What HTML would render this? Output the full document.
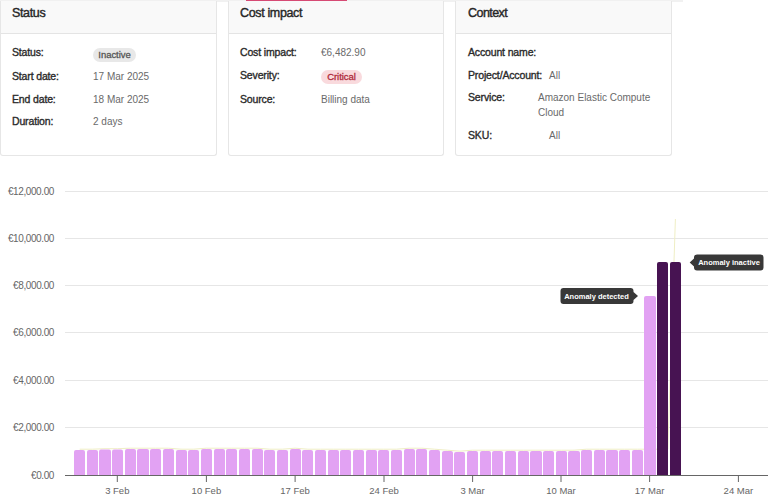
<!DOCTYPE html>
<html><head><meta charset="utf-8">
<style>
html,body{margin:0;padding:0;background:#fff;}
body{width:768px;height:499px;overflow:hidden;position:relative;font-family:"Liberation Sans",sans-serif;}
.topbar{position:absolute;left:0;top:0;width:683px;height:2px;background:#f1f1f1;}
.red{position:absolute;left:246px;top:0;width:101px;height:1px;background:#d64a74;}
.card{position:absolute;top:1px;height:154px;width:214px;border:1px solid #e6e6e6;border-top:none;border-radius:0 0 3px 3px;background:#fff;}
.hdr{position:absolute;left:0;top:0;right:0;height:32px;background:#f9f9f9;border-bottom:1px solid #e4e4e4;}
.ht{position:absolute;left:11px;top:5px;font-size:12.5px;line-height:14px;font-weight:normal;-webkit-text-stroke:0.4px #262626;color:#262626;letter-spacing:-0.35px;}
.lb{position:absolute;font-size:10.5px;line-height:12px;font-weight:normal;-webkit-text-stroke:0.35px #2a2a2a;color:#2a2a2a;letter-spacing:-0.15px;white-space:nowrap;}
.vl{position:absolute;font-size:10px;line-height:12px;color:#6a6a6a;white-space:nowrap;}
.pill{position:absolute;height:14px;border-radius:7px;font-size:9.5px;line-height:14px;font-weight:normal;-webkit-text-stroke:0.3px currentColor;letter-spacing:-0.05px;text-align:center;white-space:nowrap;}
.yl{position:absolute;right:714px;font-size:10px;line-height:12px;color:#666;letter-spacing:-0.4px;white-space:nowrap;text-align:right;}
.xl{position:absolute;top:485px;width:60px;text-align:center;font-size:9.5px;line-height:12px;color:#666;white-space:nowrap;}
.tt{position:absolute;height:16px;background:#383838;border-radius:3px;color:#fff;font-size:7.5px;font-weight:bold;line-height:16px;text-align:center;white-space:nowrap;}
svg{position:absolute;left:0;top:0;}
</style></head><body>
<div class="topbar"></div>
<div class="red"></div>

<div class="card" style="left:0;width:215px">
  <div class="hdr"><div class="ht">Status</div></div>
  <div class="lb" style="left:11px;top:45px">Status:</div>
  <div class="pill" style="left:92px;top:47px;width:43px;background:#e8e8e8;color:#555">Inactive</div>
  <div class="lb" style="left:11px;top:69px">Start date:</div>
  <div class="vl" style="left:92px;top:70px">17 Mar 2025</div>
  <div class="lb" style="left:11px;top:92px">End date:</div>
  <div class="vl" style="left:92px;top:93px">18 Mar 2025</div>
  <div class="lb" style="left:11px;top:114px">Duration:</div>
  <div class="vl" style="left:92px;top:115px">2 days</div>
</div>

<div class="card" style="left:228px">
  <div class="hdr"><div class="ht">Cost impact</div></div>
  <div class="lb" style="left:11px;top:45px">Cost impact:</div>
  <div class="vl" style="left:92px;top:46px">€6,482.90</div>
  <div class="lb" style="left:11px;top:68px">Severity:</div>
  <div class="pill" style="left:92px;top:69px;width:41px;background:#f9dadd;color:#b02a3a">Critical</div>
  <div class="lb" style="left:11px;top:92px">Source:</div>
  <div class="vl" style="left:92px;top:93px">Billing data</div>
</div>

<div class="card" style="left:455px;width:215px">
  <div class="hdr"><div class="ht" style="left:12px;letter-spacing:-0.55px">Context</div></div>
  <div class="lb" style="left:12px;top:45px">Account name:</div>
  <div class="lb" style="left:12px;top:68px">Project/Account:</div>
  <div class="vl" style="left:93px;top:69px">All</div>
  <div class="lb" style="left:12px;top:90px">Service:</div>
  <div class="vl" style="left:82px;top:89px;line-height:15px;width:125px;white-space:normal">Amazon Elastic Compute Cloud</div>
  <div class="lb" style="left:12px;top:128px">SKU:</div>
  <div class="vl" style="left:93px;top:129px">All</div>
</div>

<svg width="768" height="499" viewBox="0 0 768 499">
<rect x="65" y="191" width="703" height="1" fill="#e6e6e6"/><rect x="65" y="238" width="703" height="1" fill="#e6e6e6"/><rect x="65" y="285" width="703" height="1" fill="#e6e6e6"/><rect x="65" y="332" width="703" height="1" fill="#e6e6e6"/><rect x="65" y="380" width="703" height="1" fill="#e6e6e6"/><rect x="65" y="427" width="703" height="1" fill="#e6e6e6"/>
<polyline points="79.65,449.20 92.32,449.20 105.00,448.70 117.67,448.70 130.35,448.20 143.03,448.20 155.70,448.20 168.38,448.20 181.05,449.20 193.73,449.20 206.40,448.20 219.08,448.20 231.75,448.20 244.43,448.20 257.10,448.20 269.78,449.20 282.45,449.20 295.13,448.20 307.80,449.20 320.48,449.20 333.15,449.20 345.82,449.20 358.50,449.20 371.18,449.20 383.85,449.20 396.53,449.20 409.20,448.20 421.88,448.20 434.55,449.20 447.23,450.20 459.90,451.20 472.57,450.20 485.25,450.20 497.93,450.20 510.60,450.20 523.27,450.20 535.95,450.20 548.62,450.20 561.30,450.20 573.98,450.20 586.65,449.20 599.33,449.20 612.00,449.20 624.67,449.20 637.35,449.20 650.02,449.20 667.8,449.2 675.4,219" fill="none" stroke="#efeec4" stroke-width="1"/>
<rect x="74" y="450.00" width="11" height="25.00" rx="2" ry="2" fill="#e2a2f3"/><rect x="74" y="453.00" width="11" height="22.00" fill="#e2a2f3"/><rect x="87" y="450.00" width="11" height="25.00" rx="2" ry="2" fill="#e2a2f3"/><rect x="87" y="453.00" width="11" height="22.00" fill="#e2a2f3"/><rect x="99" y="449.50" width="12" height="25.50" rx="2" ry="2" fill="#e2a2f3"/><rect x="99" y="452.50" width="12" height="22.50" fill="#e2a2f3"/><rect x="112" y="449.50" width="11" height="25.50" rx="2" ry="2" fill="#e2a2f3"/><rect x="112" y="452.50" width="11" height="22.50" fill="#e2a2f3"/><rect x="125" y="449.00" width="11" height="26.00" rx="2" ry="2" fill="#e2a2f3"/><rect x="125" y="452.00" width="11" height="23.00" fill="#e2a2f3"/><rect x="137" y="449.00" width="12" height="26.00" rx="2" ry="2" fill="#e2a2f3"/><rect x="137" y="452.00" width="12" height="23.00" fill="#e2a2f3"/><rect x="150" y="449.00" width="11" height="26.00" rx="2" ry="2" fill="#e2a2f3"/><rect x="150" y="452.00" width="11" height="23.00" fill="#e2a2f3"/><rect x="163" y="449.00" width="11" height="26.00" rx="2" ry="2" fill="#e2a2f3"/><rect x="163" y="452.00" width="11" height="23.00" fill="#e2a2f3"/><rect x="176" y="450.00" width="11" height="25.00" rx="2" ry="2" fill="#e2a2f3"/><rect x="176" y="453.00" width="11" height="22.00" fill="#e2a2f3"/><rect x="188" y="450.00" width="11" height="25.00" rx="2" ry="2" fill="#e2a2f3"/><rect x="188" y="453.00" width="11" height="22.00" fill="#e2a2f3"/><rect x="201" y="449.00" width="11" height="26.00" rx="2" ry="2" fill="#e2a2f3"/><rect x="201" y="452.00" width="11" height="23.00" fill="#e2a2f3"/><rect x="214" y="449.00" width="11" height="26.00" rx="2" ry="2" fill="#e2a2f3"/><rect x="214" y="452.00" width="11" height="23.00" fill="#e2a2f3"/><rect x="226" y="449.00" width="11" height="26.00" rx="2" ry="2" fill="#e2a2f3"/><rect x="226" y="452.00" width="11" height="23.00" fill="#e2a2f3"/><rect x="239" y="449.00" width="11" height="26.00" rx="2" ry="2" fill="#e2a2f3"/><rect x="239" y="452.00" width="11" height="23.00" fill="#e2a2f3"/><rect x="252" y="449.00" width="11" height="26.00" rx="2" ry="2" fill="#e2a2f3"/><rect x="252" y="452.00" width="11" height="23.00" fill="#e2a2f3"/><rect x="264" y="450.00" width="11" height="25.00" rx="2" ry="2" fill="#e2a2f3"/><rect x="264" y="453.00" width="11" height="22.00" fill="#e2a2f3"/><rect x="277" y="450.00" width="11" height="25.00" rx="2" ry="2" fill="#e2a2f3"/><rect x="277" y="453.00" width="11" height="22.00" fill="#e2a2f3"/><rect x="290" y="449.00" width="11" height="26.00" rx="2" ry="2" fill="#e2a2f3"/><rect x="290" y="452.00" width="11" height="23.00" fill="#e2a2f3"/><rect x="302" y="450.00" width="11" height="25.00" rx="2" ry="2" fill="#e2a2f3"/><rect x="302" y="453.00" width="11" height="22.00" fill="#e2a2f3"/><rect x="315" y="450.00" width="11" height="25.00" rx="2" ry="2" fill="#e2a2f3"/><rect x="315" y="453.00" width="11" height="22.00" fill="#e2a2f3"/><rect x="328" y="450.00" width="11" height="25.00" rx="2" ry="2" fill="#e2a2f3"/><rect x="328" y="453.00" width="11" height="22.00" fill="#e2a2f3"/><rect x="340" y="450.00" width="11" height="25.00" rx="2" ry="2" fill="#e2a2f3"/><rect x="340" y="453.00" width="11" height="22.00" fill="#e2a2f3"/><rect x="353" y="450.00" width="11" height="25.00" rx="2" ry="2" fill="#e2a2f3"/><rect x="353" y="453.00" width="11" height="22.00" fill="#e2a2f3"/><rect x="366" y="450.00" width="11" height="25.00" rx="2" ry="2" fill="#e2a2f3"/><rect x="366" y="453.00" width="11" height="22.00" fill="#e2a2f3"/><rect x="378" y="450.00" width="11" height="25.00" rx="2" ry="2" fill="#e2a2f3"/><rect x="378" y="453.00" width="11" height="22.00" fill="#e2a2f3"/><rect x="391" y="450.00" width="11" height="25.00" rx="2" ry="2" fill="#e2a2f3"/><rect x="391" y="453.00" width="11" height="22.00" fill="#e2a2f3"/><rect x="404" y="449.00" width="11" height="26.00" rx="2" ry="2" fill="#e2a2f3"/><rect x="404" y="452.00" width="11" height="23.00" fill="#e2a2f3"/><rect x="416" y="449.00" width="11" height="26.00" rx="2" ry="2" fill="#e2a2f3"/><rect x="416" y="452.00" width="11" height="23.00" fill="#e2a2f3"/><rect x="429" y="450.00" width="11" height="25.00" rx="2" ry="2" fill="#e2a2f3"/><rect x="429" y="453.00" width="11" height="22.00" fill="#e2a2f3"/><rect x="442" y="451.00" width="11" height="24.00" rx="2" ry="2" fill="#e2a2f3"/><rect x="442" y="454.00" width="11" height="21.00" fill="#e2a2f3"/><rect x="454" y="452.00" width="11" height="23.00" rx="2" ry="2" fill="#e2a2f3"/><rect x="454" y="455.00" width="11" height="20.00" fill="#e2a2f3"/><rect x="467" y="451.00" width="11" height="24.00" rx="2" ry="2" fill="#e2a2f3"/><rect x="467" y="454.00" width="11" height="21.00" fill="#e2a2f3"/><rect x="480" y="451.00" width="11" height="24.00" rx="2" ry="2" fill="#e2a2f3"/><rect x="480" y="454.00" width="11" height="21.00" fill="#e2a2f3"/><rect x="492" y="451.00" width="11" height="24.00" rx="2" ry="2" fill="#e2a2f3"/><rect x="492" y="454.00" width="11" height="21.00" fill="#e2a2f3"/><rect x="505" y="451.00" width="11" height="24.00" rx="2" ry="2" fill="#e2a2f3"/><rect x="505" y="454.00" width="11" height="21.00" fill="#e2a2f3"/><rect x="518" y="451.00" width="11" height="24.00" rx="2" ry="2" fill="#e2a2f3"/><rect x="518" y="454.00" width="11" height="21.00" fill="#e2a2f3"/><rect x="530" y="451.00" width="12" height="24.00" rx="2" ry="2" fill="#e2a2f3"/><rect x="530" y="454.00" width="12" height="21.00" fill="#e2a2f3"/><rect x="543" y="451.00" width="11" height="24.00" rx="2" ry="2" fill="#e2a2f3"/><rect x="543" y="454.00" width="11" height="21.00" fill="#e2a2f3"/><rect x="556" y="451.00" width="11" height="24.00" rx="2" ry="2" fill="#e2a2f3"/><rect x="556" y="454.00" width="11" height="21.00" fill="#e2a2f3"/><rect x="568" y="451.00" width="12" height="24.00" rx="2" ry="2" fill="#e2a2f3"/><rect x="568" y="454.00" width="12" height="21.00" fill="#e2a2f3"/><rect x="581" y="450.00" width="11" height="25.00" rx="2" ry="2" fill="#e2a2f3"/><rect x="581" y="453.00" width="11" height="22.00" fill="#e2a2f3"/><rect x="594" y="450.00" width="11" height="25.00" rx="2" ry="2" fill="#e2a2f3"/><rect x="594" y="453.00" width="11" height="22.00" fill="#e2a2f3"/><rect x="606" y="450.00" width="12" height="25.00" rx="2" ry="2" fill="#e2a2f3"/><rect x="606" y="453.00" width="12" height="22.00" fill="#e2a2f3"/><rect x="619" y="450.00" width="11" height="25.00" rx="2" ry="2" fill="#e2a2f3"/><rect x="619" y="453.00" width="11" height="22.00" fill="#e2a2f3"/><rect x="632" y="450.00" width="11" height="25.00" rx="2" ry="2" fill="#e2a2f3"/><rect x="632" y="453.00" width="11" height="22.00" fill="#e2a2f3"/><rect x="644" y="296.00" width="12" height="179.00" rx="2" ry="2" fill="#e2a2f3"/><rect x="644" y="299.00" width="12" height="176.00" fill="#e2a2f3"/><rect x="657" y="262.00" width="11" height="213.00" rx="2" ry="2" fill="#471352"/><rect x="657" y="265.00" width="11" height="210.00" fill="#471352"/><rect x="670" y="262.00" width="11" height="213.00" rx="2" ry="2" fill="#471352"/><rect x="670" y="265.00" width="11" height="210.00" fill="#471352"/>

<rect x="65" y="475" width="703" height="1" fill="#666"/>
<rect x="116.80" y="475" width="1" height="7" fill="#666"/><rect x="205.90" y="475" width="1" height="7" fill="#666"/><rect x="294.60" y="475" width="1" height="7" fill="#666"/><rect x="383.50" y="475" width="1" height="7" fill="#666"/><rect x="472.10" y="475" width="1" height="7" fill="#666"/><rect x="560.50" y="475" width="1" height="7" fill="#666"/><rect x="649.10" y="475" width="1" height="7" fill="#666"/><rect x="737.90" y="475" width="1" height="7" fill="#666"/>
<path d="M 560.5 291 Q 560.5 288 563.5 288 L 630.5 288 Q 633.5 288 633.5 291 L 633.5 292 L 638 296 L 633.5 300 L 633.5 301 Q 633.5 304 630.5 304 L 563.5 304 Q 560.5 304 560.5 301 Z" fill="#383838"/>
<path d="M 694 257.5 Q 694 254.5 697 254.5 L 760.5 254.5 Q 763.5 254.5 763.5 257.5 L 763.5 267.5 Q 763.5 270.5 760.5 270.5 L 697 270.5 Q 694 270.5 694 267.5 L 694 266.5 L 689.7 262.5 L 694 258.5 Z" fill="#383838"/>
</svg>
<div class="yl" style="top:186px">€12,000.00</div><div class="yl" style="top:233px">€10,000.00</div><div class="yl" style="top:280px">€8,000.00</div><div class="yl" style="top:327px">€6,000.00</div><div class="yl" style="top:375px">€4,000.00</div><div class="yl" style="top:422px">€2,000.00</div><div class="yl" style="top:470px">€0.00</div>
<div class="xl" style="left:87.3px">3 Feb</div><div class="xl" style="left:176.4px">10 Feb</div><div class="xl" style="left:265.1px">17 Feb</div><div class="xl" style="left:354.0px">24 Feb</div><div class="xl" style="left:442.6px">3 Mar</div><div class="xl" style="left:531.0px">10 Mar</div><div class="xl" style="left:619.6px">17 Mar</div><div class="xl" style="left:708.4px">24 Mar</div>
<div class="tt" style="left:560px;top:289px;width:73px;background:none">Anomaly detected</div>
<div class="tt" style="left:694px;top:255px;width:70px;background:none">Anomaly inactive</div>
</body></html>
